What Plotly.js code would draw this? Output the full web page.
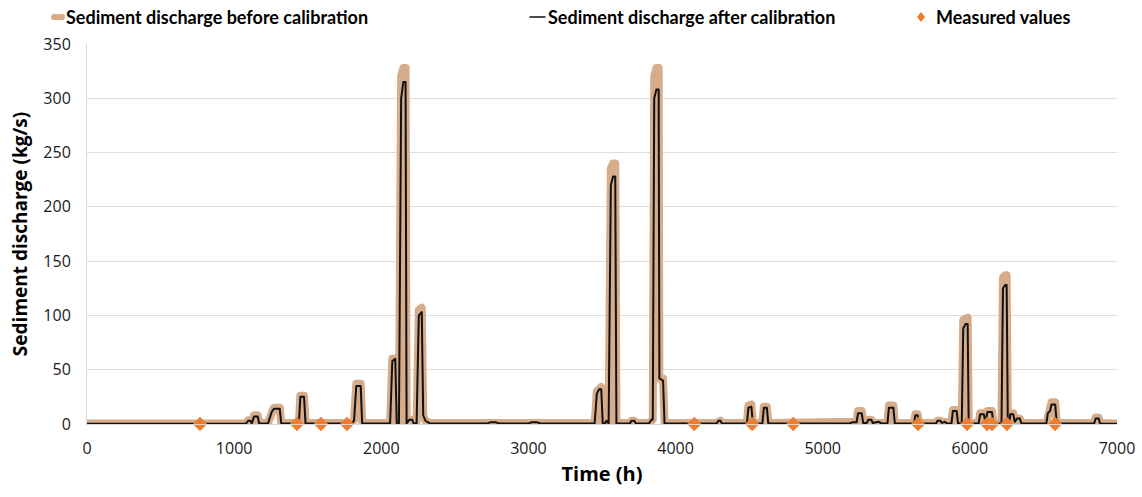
<!DOCTYPE html>
<html>
<head>
<meta charset="utf-8">
<script src="https://cdn.plot.ly/plotly-3.0.1.min.js"></script>
<style>html,body{margin:0;padding:0;background:#fff;}#chart{width:1142px;height:497px;}</style>
</head>
<body>
<div id="chart"></div>
<script>
// Time (h)
const timeH = [0,1080,1095,1110,1120,1135,1160,1170,1230,1240,1255,1270,1310,1320,1440,1450,1475,1485,1800,1815,1830,1860,1870,2060,2075,2095,2105,2120,2135,2150,2165,2172,2190,2210,2220,2240,2255,2275,2285,2300,2330,2720,2740,2780,2800,3000,3020,3060,3080,3450,3465,3480,3495,3505,3520,3530,3545,3560,3575,3590,3598,3690,3700,3720,3730,3820,3835,3845,3855,3870,3885,3890,3915,3925,4280,4290,4305,4315,4485,4495,4515,4525,4590,4600,4620,4630,5180,5200,5230,5240,5265,5275,5300,5310,5330,5340,5380,5400,5440,5450,5480,5490,5620,5630,5645,5655,5770,5780,5800,5810,5830,5845,5875,5885,5910,5920,5945,5955,5970,5985,5992,6060,6070,6095,6105,6120,6150,6160,6215,6225,6240,6250,6258,6268,6275,6295,6305,6320,6340,6350,6520,6530,6545,6555,6580,6590,6845,6855,6875,6885,7000];
// Sediment discharge after calibration (kg/s)
const afterCal = [0.3,0.3,3,3,0.5,7,7,0.5,0.5,5,11,14,14,0.5,0.5,25,25,0.5,0.5,3,35,35,0.5,0.5,58,60,0.5,0.5,300,315,315,0.5,4,4,0.5,0.5,100,103,8,3,0.5,0.5,1.5,1.5,0.5,0.5,1.5,1.5,0.5,0.5,28,32,32,0.5,0.5,3,0.5,220,228,228,0.5,0.5,3,3,0.5,0.5,4,4,300,308,308,42,40,0.5,0.5,3,3,0.5,0.5,15,16,0.5,0.5,15,15,0.5,0.5,1.5,1.5,10,10,1,1,4,4,1,2,0.5,0.5,15,15,0.5,0.5,8,8,0.5,0.5,3,3,1,2,0.5,0.5,12,12,0.5,0.5,88,92,92,0.5,0.5,9,9,2,11,11,0.5,0.5,125,128,128,0.5,0.5,9,9,2,5,5,0.5,0.5,10,12,18,18,0.5,0.5,5,5,0.5,0.3];
// Sediment discharge before calibration (kg/s)
const beforeCal = [0.5,0.5,3.5,3.5,1,8,8,1,1,6,13,15,15,1,1,26,26,1,1,4,37,37,1,1,60,60,1,1,320,328,328,1,4,4,1,1,105,107,8,3,1,1,2,2,1,1,2,2,1,1,30,34,34,1,1,3,1,235,240,240,1,1,3,3,1,1,4,4,320,328,328,42,42,1,1,3,3,1,1,17,18,1,1,16,16,1,1,2,2,12,12,2,2,4,4,1,2,1,1,17,17,1,1,9,9,1,1,3,3,1,2,1,1,13,13,1,1,96,98,98,1,1,10,10,2,12,12,1,1,135,137,137,1,1,10,10,2,5,5,1,1,12,14,20,20,1,1,6,6,1,0.5];
// Measured values
const measTime = [768,1427,1590,1767,4127,4520,4800,5648,5981,6117,6151,6252,6579];
const measVal = [0,0,0,0,0,0,0,0,0,0,0,0,0];
// Legend labels
const legendNames = ['Sediment discharge before calibration', 'Sediment discharge after calibration', 'Measured values'];

const beige = 'rgb(214,172,138)';
const black = '#111111';
const orange = '#ED7D31';
const axFont = "'Open Sans', sans-serif";
const legFont = "Lato, 'Open Sans', sans-serif";

// plot area geometry (pixels) for legend placement
const W = 1142, H = 497, L = 87, R = 25, T = 44, B = 73;
const px = v => (v - L) / (W - L - R);
const py = v => (H - B - v) / (H - T - B);
const legY = 17;

const traces = [
  {x: timeH, y: beforeCal, type: 'scatter', mode: 'lines', name: legendNames[0], showlegend: false,
   line: {color: beige, width: 8}},
  {x: timeH, y: afterCal, type: 'scatter', mode: 'lines', name: legendNames[1], showlegend: false,
   line: {color: black, width: 2}},
  {x: measTime, y: measVal, type: 'scatter', mode: 'markers', name: legendNames[2], showlegend: false,
   cliponaxis: false,
   marker: {symbol: 'diamond', color: orange, size: 11}}
];

const shapes = [
  {type: 'line', xref: 'paper', yref: 'paper', x0: px(54), x1: px(62), y0: py(legY), y1: py(legY),
   line: {color: beige, width: 6}},
  {type: 'line', xref: 'paper', yref: 'paper', x0: px(530), x1: px(545), y0: py(legY), y1: py(legY),
   line: {color: black, width: 1.5}},
  {type: 'path', xref: 'paper', yref: 'paper',
   path: `M ${px(921)} ${py(legY-5)} L ${px(925)} ${py(legY)} L ${px(921)} ${py(legY+5)} L ${px(917)} ${py(legY)} Z`,
   fillcolor: orange, line: {width: 0}}
];
const annotations = [
  {text: '<b>' + legendNames[0] + '</b>', x: px(64), xanchor: 'left'},
  {text: '<b>' + legendNames[1] + '</b>', x: px(546), xanchor: 'left'},
  {text: '<b>' + legendNames[2] + '</b>', x: px(934), xanchor: 'left'}
].map(a => Object.assign(a, {xref: 'paper', yref: 'paper', y: py(legY), yanchor: 'middle', showarrow: false,
  font: {family: legFont, size: 18, color: '#000'}}));

const layout = {
  width: W, height: H,
  margin: {l: L, r: R, t: T, b: B},
  paper_bgcolor: '#fff', plot_bgcolor: '#fff',
  font: {family: axFont, color: '#000'},
  showlegend: false,
  shapes: shapes,
  annotations: annotations,
  xaxis: {range: [0, 7000], dtick: 1000, tickformat: 'd', showgrid: false, zeroline: false,
          showline: true, linecolor: '#d9d9d9', ticks: '', ticklabelstandoff: 10,
          tickfont: {family: axFont, size: 16, color: '#1a1a1a'},
          title: {text: '<b>Time (h)</b>', font: {family: axFont, size: 20, color: '#000'}, standoff: 8}},
  yaxis: {range: [0, 350], dtick: 50, showgrid: true, gridcolor: '#dedede', zeroline: false,
          showline: true, linecolor: '#d9d9d9', ticks: '', ticklabelstandoff: 12,
          tickfont: {family: axFont, size: 16, color: '#1a1a1a'},
          title: {text: '<b>Sediment discharge (kg/s)</b>', font: {family: axFont, size: 19, color: '#000'}, standoff: 10}}
};
Plotly.newPlot('chart', traces, layout, {displayModeBar: false, staticPlot: true}).then(gd => {
  gd.querySelectorAll('.scatterlayer path.js-line').forEach(p => {
    p.style.strokeLinejoin = 'round';
    p.style.strokeLinecap = 'round';
  });
  gd.querySelectorAll('.shapelayer path').forEach(p => { p.style.strokeLinecap = 'round'; });
});
</script>
</body>
</html>
